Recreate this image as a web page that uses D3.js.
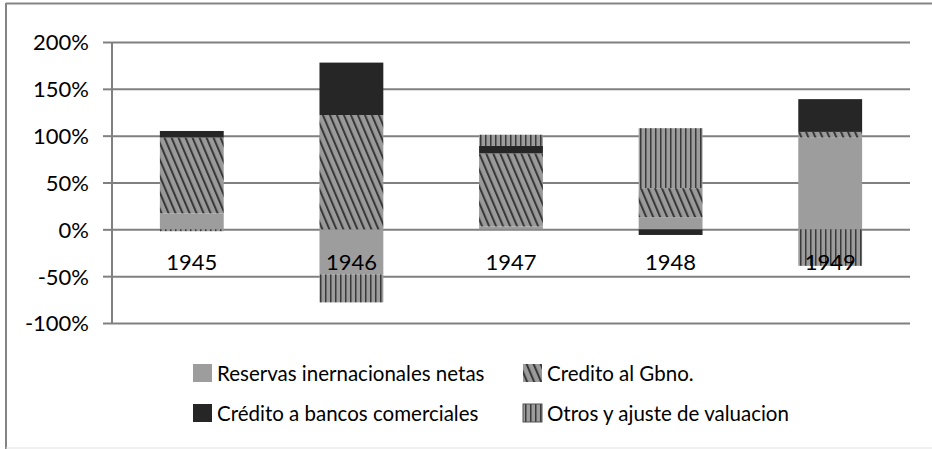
<!DOCTYPE html>
<html>
<head>
<meta charset="utf-8">
<script src="https://cdn.jsdelivr.net/npm/d3@7"></script>
<style>
  html, body { margin: 0; padding: 0; background: #fff; }
  svg { display: block; font-family: Lato, "Open Sans", sans-serif; }
</style>
</head>
<body>
<svg id="chart" width="932" height="449"></svg>
<script>
// Years on the category axis
const categories = ["1945", "1946", "1947", "1948", "1949"];

// Contributions (percent) of each source, by year
const reservas = [17, -48, 3, 13, 98];
const creditoGbno = [81, 122, 78, 31, 6];
const creditoBancos = [7, 56, 8, -6, 35];
const otros = [-2, -30, 12, 64, -39];

// Value axis ticks
const yTicks = [-100, -50, 0, 50, 100, 150, 200];

const seriesNames = [
  "Reservas inernacionales netas",
  "Credito al Gbno.",
  "Crédito a bancos comerciales",
  "Otros y ajuste de valuacion"
];
const seriesKeys = ["reservas", "credito", "bancos", "otros"];

const rows = categories.map((c, i) => ({
  year: c,
  reservas: reservas[i],
  credito: creditoGbno[i],
  bancos: creditoBancos[i],
  otros: otros[i]
}));

const svg = d3.select("#chart");
const W = 932, H = 449;

// Chart frame
svg.append("line").attr("x1", 6).attr("x2", W).attr("y1", 3.5).attr("y2", 3.5)
  .attr("stroke", "#858585").attr("stroke-width", 2);
svg.append("line").attr("x1", 6).attr("x2", 6).attr("y1", 3).attr("y2", H)
  .attr("stroke", "#858585").attr("stroke-width", 2);
svg.append("line").attr("x1", 6).attr("x2", W).attr("y1", 448).attr("y2", 448)
  .attr("stroke", "#e2e2e2").attr("stroke-width", 1);

// Fill patterns
const defs = svg.append("defs");
const diag = defs.append("pattern")
  .attr("id", "diag").attr("patternUnits", "userSpaceOnUse")
  .attr("width", 7).attr("height", 7)
  .attr("patternTransform", "skewX(23)");
diag.append("rect").attr("width", 7).attr("height", 7).attr("fill", "#9a9a9a");
diag.append("rect").attr("x", 0).attr("width", 2.2).attr("height", 7).attr("fill", "#383838");

const vert = defs.append("pattern")
  .attr("id", "vert").attr("patternUnits", "userSpaceOnUse")
  .attr("width", 5).attr("height", 5);
vert.append("rect").attr("width", 5).attr("height", 5).attr("fill", "#9c9c9c");
vert.append("rect").attr("x", 0).attr("width", 1.5).attr("height", 5).attr("fill", "#3a3a3a");

const fills = {
  reservas: "#9d9d9d",
  credito: "url(#diag)",
  bancos: "#262626",
  otros: "url(#vert)"
};

// Scales
const x = d3.scaleBand().domain(categories).range([112, 910])
  .paddingInner(0.6).paddingOuter(0.3);
const y = d3.scaleLinear().domain([-100, 200]).range([323, 42]);

// Gridlines
svg.append("g")
  .attr("transform", "translate(112,0)")
  .call(d3.axisLeft(y).tickValues(yTicks).tickSize(-798).tickFormat(""))
  .call(g => g.select(".domain").remove())
  .call(g => g.selectAll(".tick line").attr("stroke", "#808080").attr("stroke-width", 2));

// Stacked bars
const stack = d3.stack().keys(seriesKeys).offset(d3.stackOffsetDiverging);
const stacked = stack(rows);

svg.append("g").selectAll("g")
  .data(stacked)
  .join("g")
  .attr("fill", d => fills[d.key])
  .selectAll("rect")
  .data(d => d)
  .join("rect")
  .attr("x", d => x(d.data.year))
  .attr("width", x.bandwidth())
  .attr("y", d => y(Math.max(d[0], d[1])))
  .attr("height", d => Math.abs(y(d[0]) - y(d[1])));

// Value axis
const yAxis = svg.append("g")
  .attr("transform", "translate(112,0)")
  .call(d3.axisLeft(y).tickValues(yTicks).tickSize(9).tickPadding(14)
    .tickFormat(d => d + "%"));
yAxis.select(".domain").attr("stroke", "#808080").attr("stroke-width", 2)
  .attr("d", "M0," + y(-100) + "V" + y(200));
yAxis.selectAll(".tick line").attr("stroke", "#808080").attr("stroke-width", 2);
yAxis.selectAll(".tick text")
  .attr("fill", "#000").attr("font-size", 22)
  .attr("font-family", "Lato, 'Open Sans', sans-serif")
  .attr("dy", "0.36em");

// Category labels along the zero line
svg.append("g").selectAll("text")
  .data(categories)
  .join("text")
  .attr("x", d => x(d) + x.bandwidth() / 2)
  .attr("y", y(0) + 41)
  .attr("text-anchor", "middle")
  .attr("font-size", 22)
  .attr("fill", "#000")
  .text(d => d);

// Legend
const legendPos = [
  { x: 193, y: 364 },
  { x: 523, y: 364 },
  { x: 193, y: 404 },
  { x: 523, y: 404 }
];
const legend = svg.append("g");
seriesKeys.forEach((k, i) => {
  const p = legendPos[i];
  legend.append("rect")
    .attr("x", p.x).attr("y", p.y)
    .attr("width", 19).attr("height", 18)
    .attr("fill", fills[k])
    .attr("stroke", k === "otros" ? "#555" : "none")
    .attr("stroke-width", 1);
  legend.append("text")
    .attr("x", p.x + 24).attr("y", p.y + 17)
    .attr("font-size", 20.5)
    .attr("fill", "#000")
    .text(seriesNames[i]);
});
</script>
</body>
</html>
